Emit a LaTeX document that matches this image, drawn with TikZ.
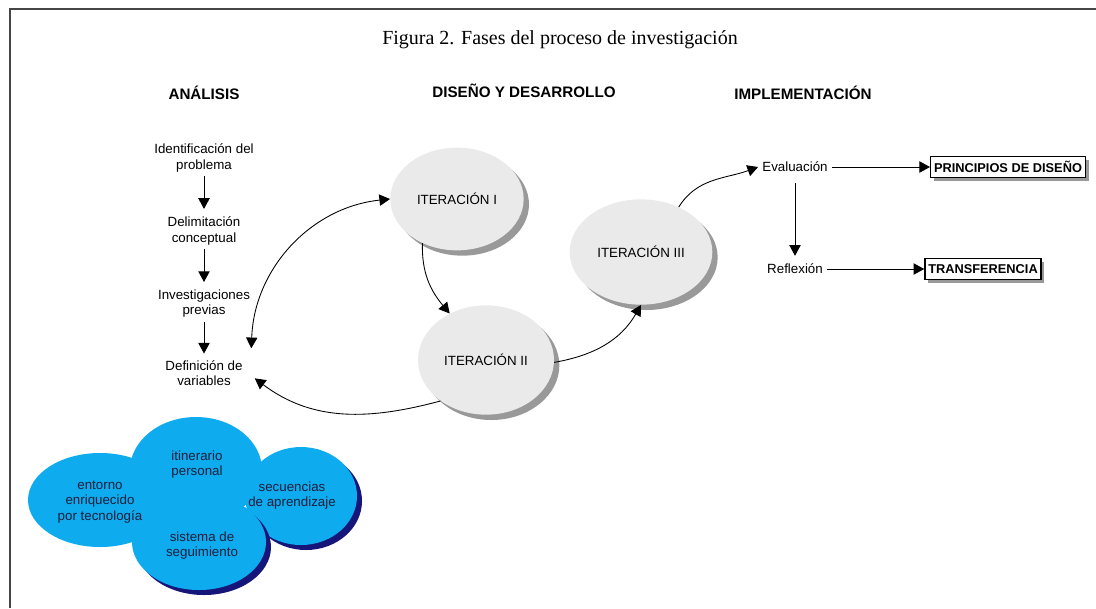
\documentclass[tikz,border=0pt]{standalone}
\usepackage{fontspec}
\setmainfont{Liberation Sans}
\newfontfamily\titlefont{Liberation Serif}
\usetikzlibrary{arrows.meta,shapes.geometric,shadows}

\definecolor{itergray}{RGB}{234,234,234}
\definecolor{cloudblue}{RGB}{14,172,238}
\definecolor{cloudshadow}{RGB}{22,22,122}
\definecolor{cloudtext}{RGB}{30,30,60}
\definecolor{framegray}{RGB}{70,70,70}

\tikzset{
  phase/.style={font=\bfseries\fontsize{11.4}{13}\selectfont},
  stage/.style={align=center, inner sep=3pt, font=\fontsize{10}{11.3}\selectfont},
  iteration/.style={ellipse, fill=itergray, inner sep=0pt, font=\fontsize{10}{12}\selectfont,
    drop shadow={shadow xshift=4pt, shadow yshift=-4pt, fill=black!40, opacity=1}},
  result/.style={draw, line width=1pt, fill=white, inner xsep=2.5pt, minimum height=16pt,
    font=\bfseries\fontsize{9.6}{11}\selectfont,
    drop shadow={shadow xshift=2.5pt, shadow yshift=-2.5pt, fill=black!40, opacity=1}},
  cloudtxt/.style={align=center, text=cloudtext, font=\fontsize{10}{11.3}\selectfont},
  tip/.tip={Triangle[length=8pt,width=8.5pt]},
  arr/.style={-tip, line width=0.65pt},
  arrboth/.style={tip-tip, line width=0.65pt},
}

\begin{document}
\begin{tikzpicture}[x=0.75pt, y=0.75pt]
\useasboundingbox (0,0) rectangle (1096,-608);
% frame
\draw[framegray, line width=1.5pt] (10,-608) -- (10,-9) -- (1096,-9);

\node[font=\titlefont\fontsize{15}{17}\selectfont] (title) at (560,-40) {Figura 2. Fases del proceso de investigación};

% phases
\node[phase] (analisis) at (204,-93) {ANÁLISIS};
\node[phase] (diseno) at (524,-91) {DISEÑO Y DESARROLLO};
\node[phase] (implem) at (803,-93) {IMPLEMENTACIÓN};

% analysis
\node[stage] (ident) at (204,-158) {Identificación del\\problema};
\node[stage] (delim) at (204,-231) {Delimitación\\conceptual};
\node[stage] (prev) at (204,-304) {Investigaciones\\previas};
\node[stage] (defv) at (204,-373) {Definición de\\variables};
\draw[arr, shorten >=3pt] (ident) -- (delim);
\draw[arr, shorten >=3pt] (delim) -- (prev);
\draw[arr, shorten >=2pt] (prev) -- (defv);

% iterations
\node[iteration, minimum width=100pt, minimum height=77pt] (it1) at (457,-199) {ITERACIÓN I};
\node[iteration, minimum width=102pt, minimum height=82pt] (it2) at (486,-360) {ITERACIÓN II};
\node[iteration, minimum width=107pt, minimum height=79pt] (it3) at (641,-252) {ITERACIÓN III};

\draw[arrboth] ([xshift=3.4pt,yshift=6pt]defv.north east) to[out=88, in=186] (it1.west);
\draw[arr] (it2.222) to[out=195, in=323] ([xshift=6pt,yshift=-4pt]defv.east);
\draw[arr] (it1.232) to[out=268, in=130] (it2.128);
\draw[arr] (it2.358) to[out=10, in=240] (it3.south);

% implementation
\node[stage] (eval) at (795,-167) {Evaluación};
\node[stage] (refl) at (795,-269) {Reflexión};
\node[result] (princ) at (1008,-167) {PRINCIPIOS DE DISEÑO};
\node[result] (transf) at (983,-269) {TRANSFERENCIA};
\draw[arr] (it3.50) to[out=58, in=200] (eval.west);
\draw[arr] (eval) -- (princ);
\draw[arr, shorten <=5pt, shorten >=3pt] (eval) -- (refl);
\draw[arr] (refl) -- (transf);

% cloud
\fill[cloudshadow] (306,-501) ellipse [x radius=56, y radius=49];
\fill[cloudblue] (301,-496) ellipse [x radius=56, y radius=49];
\fill[cloudblue] (100,-500) ellipse [x radius=72, y radius=47];
\fill[cloudblue] (196,-470) ellipse [x radius=66, y radius=53];
\fill[cloudshadow] (204,-547) ellipse [x radius=67, y radius=48];
\fill[cloudblue] (199,-542) ellipse [x radius=67, y radius=48];
\node[cloudtxt] (entorno) at (100,-502) {entorno\\enriquecido\\por tecnología};
\node[cloudtxt] (itiner) at (197,-465) {itinerario\\personal};
\node[cloudtxt] (secuen) at (292,-496) {secuencias\\de aprendizaje};
\node[cloudtxt] (seguim) at (202,-546) {sistema de\\seguimiento};
\end{tikzpicture}
\end{document}
